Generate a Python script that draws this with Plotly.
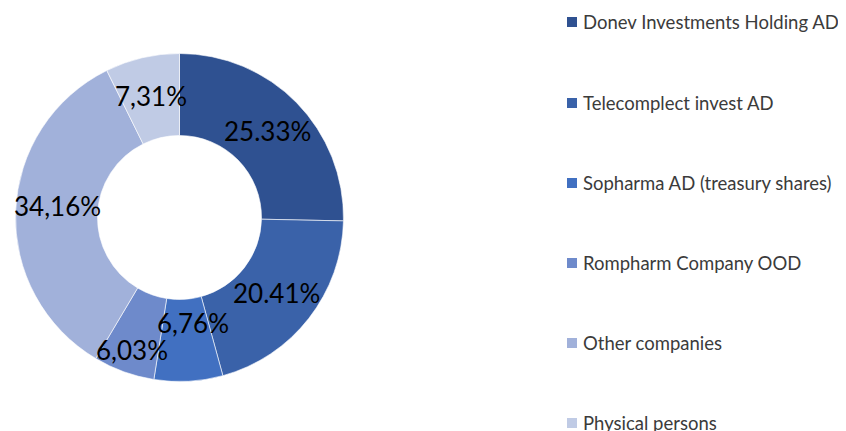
import math
import plotly.graph_objects as go

categories = ["Donev Investments Holding AD", "Telecomplect invest AD",
              "Sopharma AD (treasury shares)", "Rompharm Company OOD",
              "Other companies", "Physical persons"]
values = [25.33, 20.41, 6.76, 6.03, 34.16, 7.31]
value_labels = ["25.33%", "20.41%", "6,76%", "6,03%", "34,16%", "7,31%"]
colors = ["#2F5191", "#3A62A9", "#4170C1", "#6E8ACB", "#A1B1DA", "#C0CBE5"]

# page is shown with an 8px body offset; figure coordinates below account for it
W, H = 846, 431
CX, CY, R = 171.5, 209.5, 164.0   # donut centre / radius in figure pixels

fig = go.Figure()
fig.add_trace(go.Pie(
    labels=categories, values=values, text=value_labels,
    textinfo="none",
    sort=False, direction="clockwise", rotation=0, hole=0.5,
    marker=dict(colors=colors, line=dict(color="white", width=0.6)),
    domain=dict(x=[(CX - R) / W, (CX + R) / W], y=[(H - CY - R) / H, (H - CY + R) / H]),
    showlegend=False, hoverinfo="label+text",
))

# data labels: placed at each slice's mid angle (small nudges like the original)
label_r = [123, 123, 106, 141, 123, 125]
label_dtheta = [0, 0, -4, 0, 3, 0]
total = sum(values)
cum = 0.0
for v, lab, rr, dt in zip(values, value_labels, label_r, label_dtheta):
    theta = math.radians((cum + v / 2) / total * 360 + dt)
    cum += v
    px = CX + rr * math.sin(theta)
    py = CY - rr * math.cos(theta)
    fig.add_annotation(x=px / W, y=(H - py) / H, xref="paper", yref="paper",
                       text=lab, showarrow=False, xanchor="center", yanchor="middle",
                       font=dict(family="Lato", size=26, color="black"))

# manual legend (layout elements)
leg_y = [14, 95, 175, 255, 335, 415]
for name, col, yy in zip(categories, colors, leg_y):
    fig.add_shape(type="rect", xref="paper", yref="paper",
                  x0=559 / W, x1=569 / W, y0=(H - yy - 5) / H, y1=(H - yy + 5) / H,
                  fillcolor=col, line=dict(width=0))
    fig.add_annotation(x=573 / W, y=(H - yy) / H, xref="paper", yref="paper",
                       text=name, showarrow=False, xanchor="left", yanchor="middle",
                       font=dict(family="Lato", size=18.5, color="#3b3b3b"))

fig.update_layout(width=W, height=H, margin=dict(l=0, r=0, t=0, b=0),
                  paper_bgcolor="white", plot_bgcolor="white")
fig.write_html("out.html")
